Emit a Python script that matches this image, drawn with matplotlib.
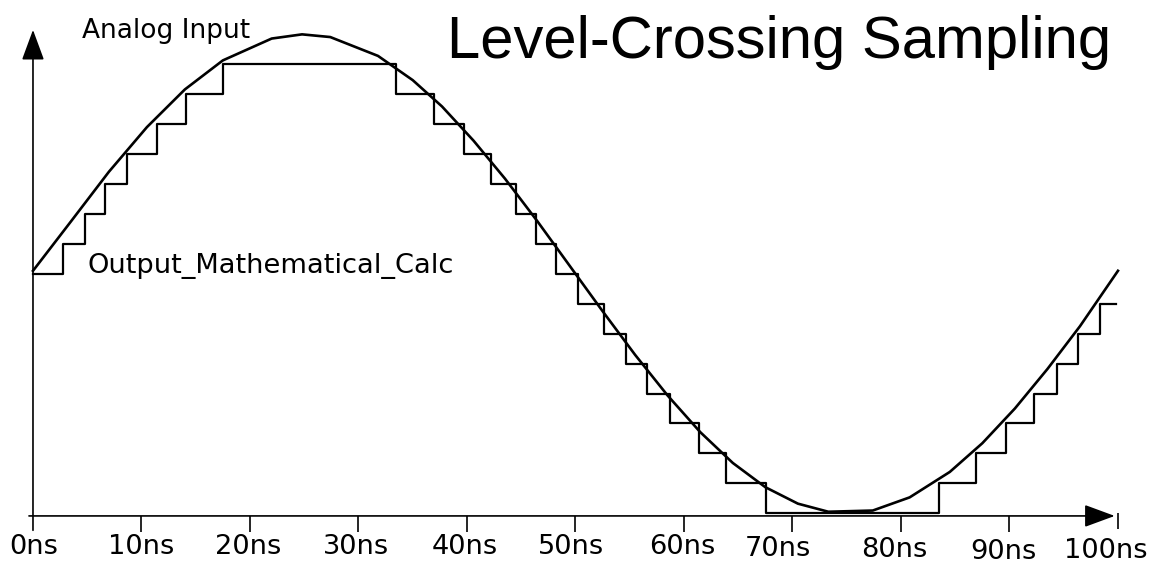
import matplotlib
matplotlib.use('Agg')
import matplotlib.pyplot as plt

# analog input, polyline vertices (ns, level units)
input_t = [0, 3.5, 7, 10.5, 14, 17.5, 22.0, 24.8, 27.4, 31.8, 35.0, 37.7,
           40.6, 43.5, 46.5, 49.5, 52.5, 55.5, 58.5, 61.5, 64.5, 67.5, 70.5,
           73.3, 77.4, 80.8, 84.5, 87.5, 90.5, 93.5, 96.5, 100]
input_v = [0.1, 1.75, 3.41, 4.90, 6.16, 7.13, 7.86, 8.0, 7.91, 7.28, 6.47, 5.59,
           4.45, 3.18, 1.75, 0.25, -1.25, -2.71, -4.07, -5.29, -6.32, -7.13, -7.68,
           -7.95, -7.91, -7.47, -6.62, -5.66, -4.50, -3.18, -1.75, 0.1]

# level-crossing output: time of each update and the new level
out_t = [0, 2.8, 4.8, 6.6, 8.7, 11.4, 14.1, 17.5,
         33.5, 37.0, 39.7, 42.2, 44.5, 46.4, 48.2, 50.2, 52.6, 54.7, 56.6,
         58.7, 61.4, 63.9, 67.6,
         83.5, 86.9, 89.7, 92.3, 94.4, 96.3, 98.3, 99.8]
out_level = [0, 1, 2, 3, 4, 5, 6, 7,
             6, 5, 4, 3, 2, 1, 0, -1, -2, -3, -4,
             -5, -6, -7, -8,
             -7, -6, -5, -4, -3, -2, -1, -1]

tick_ns = [0, 10, 20, 30, 40, 50, 60, 70, 80, 90, 100]
tick_labels = ['0ns', '10ns', '20ns', '30ns', '40ns', '50ns',
               '60ns', '70ns', '80ns', '90ns', '100ns']

# small hand-placement quirks of the original labels
label_dx = [0.1, 0, -0.2, -0.2, -0.2, -0.4, -0.2, -1.3, -0.6, -0.6, -1.1]
label_dy = [0, 0, 0, 0, 0, 0, 0, -0.07, -0.1, -0.17, -0.15]

AXIS_Y = -8.09

fig = plt.figure(figsize=(11.54, 5.66), dpi=100)
ax = fig.add_axes([0, 0, 1, 1])
ax.set_xlim(-3.04, 103.32)
ax.set_ylim(-9.763, 9.148)
ax.axis('off')

ax.plot(input_t, input_v, color='black', lw=1.9, solid_joinstyle='round')
ax.plot(out_t, out_level, color='black', lw=1.6, drawstyle='steps-post')

# axes with arrow heads
arrow = dict(arrowstyle='-|>,head_length=19,head_width=7', color='black',
             lw=1.2, shrinkA=0, shrinkB=0, mutation_scale=1)
ax.annotate('', xy=(99.7, AXIS_Y), xytext=(-0.37, AXIS_Y), arrowprops=arrow)
ax.annotate('', xy=(0, 8.15), xytext=(0, -8.57), arrowprops=arrow)

ax.vlines(tick_ns[1:-1], AXIS_Y - 0.55, AXIS_Y, color='black', lw=1.2)
ax.vlines(tick_ns[-1], AXIS_Y - 0.45, AXIS_Y + 0.1, color='black', lw=1.2)

for t, lab, dx, dy in zip(tick_ns, tick_labels, label_dx, label_dy):
    ax.text(t + dx, -9.36 + dy, lab, ha='center', va='baseline',
            fontsize=19.6, family='DejaVu Sans')

ax.text(4.5, 7.88, 'Analog Input', fontsize=19, family='DejaVu Sans',
        va='baseline')
ax.text(5.0, 0.03, 'Output_Mathematical_Calc', fontsize=19.6,
        family='DejaVu Sans', va='baseline')
ax.text(38.2, 7.2, 'Level-Crossing Sampling', fontsize=43,
        family='Liberation Sans', va='baseline')

fig.savefig('out.png', dpi=100)
